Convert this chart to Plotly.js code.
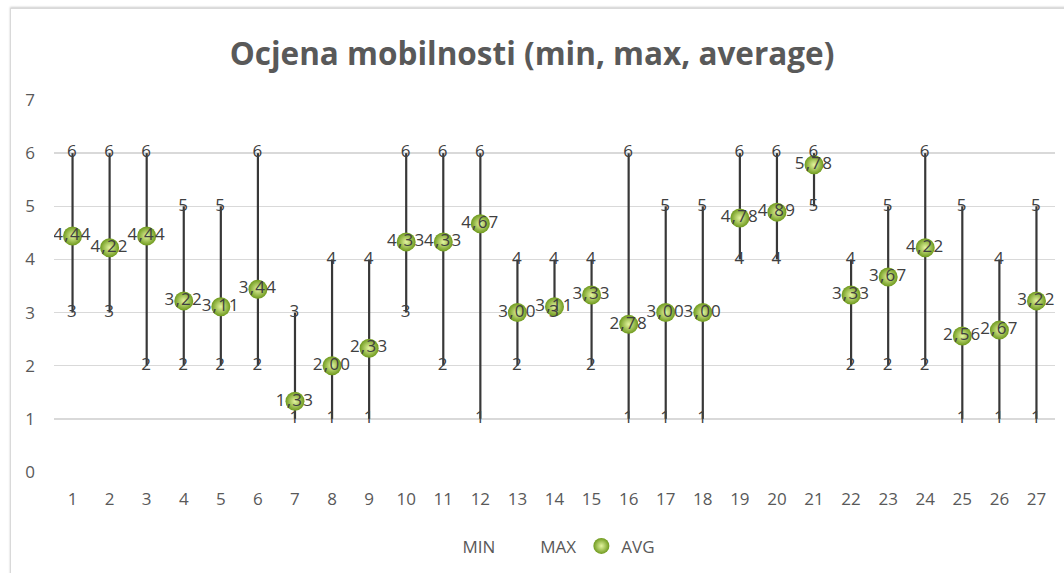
<!DOCTYPE html>
<html>
<head>
<meta charset="utf-8">
<script src="https://cdn.plot.ly/plotly-3.0.1.min.js"></script>
<style>
  html, body { margin: 0; padding: 0; background: #fff; }
  #wrap { position: relative; width: 1064px; height: 573px; }
  #chart { width: 1064px; height: 573px; }
  #frame { position: absolute; left: 10px; top: 8px; width: 1060px; height: 570px;
           border: 1px solid #d9d9d9; box-shadow: 0 -1px 2px #ccc; pointer-events: none; }
  #chart .textpoint text { letter-spacing: 1.2px; }
</style>
</head>
<body>
<div id="wrap">
  <div id="chart"></div>
  <div id="frame"></div>
</div>
<script>
// ---- data ----
const categories = [1,2,3,4,5,6,7,8,9,10,11,12,13,14,15,16,17,18,19,20,21,22,23,24,25,26,27];
const minVals = [3,3,2,2,2,2,1,1,1,3,2,1,2,3,2,1,1,1,4,4,5,2,2,2,1,1,1];
const maxVals = [6,6,6,5,5,6,3,4,4,6,6,6,4,4,4,6,5,5,6,6,6,4,5,6,5,4,5];
const avgVals = [4.44,4.22,4.44,3.22,3.11,3.44,1.33,2.00,2.33,4.33,4.33,4.67,3.00,3.11,3.33,2.78,3.00,3.00,4.78,4.89,5.78,3.33,3.67,4.22,2.56,2.67,3.22];
const yTicks = [0,1,2,3,4,5,6,7];

const fmt = v => v.toFixed(2).replace('.', ',');
const labelFont = {family: 'Open Sans, sans-serif', size: 17, color: '#404040'};

const traces = [
  {name: 'MIN', x: [null], y: [null], type: 'scatter', mode: 'markers',
   marker: {color: 'rgba(0,0,0,0)', size: 1}, hoverinfo: 'skip'},
  {name: 'MAX', x: [null], y: [null], type: 'scatter', mode: 'markers',
   marker: {color: 'rgba(0,0,0,0)', size: 1}, hoverinfo: 'skip'},
  {name: 'AVG', x: categories, y: avgVals, type: 'scatter', mode: 'markers',
   marker: {size: 19, color: '#6f9a1e', line: {width: 0},
            gradient: {type: 'radial', color: '#e4f5a0'}},
   error_y: {type: 'data', symmetric: false,
             array: maxVals.map((m, i) => m - avgVals[i]),
             arrayminus: minVals.map((m, i) => avgVals[i] - m),
             color: '#383838', thickness: 2.2, width: 0}},
  {name: 'MINlbl', x: categories, y: minVals, type: 'scatter', mode: 'text',
   text: minVals.map(String), textposition: 'middle center', textfont: labelFont,
   showlegend: false, hoverinfo: 'skip'},
  {name: 'MAXlbl', x: categories, y: maxVals, type: 'scatter', mode: 'text',
   text: maxVals.map(String), textposition: 'middle center', textfont: labelFont,
   showlegend: false, hoverinfo: 'skip'},
  {name: 'AVGlbl', x: categories, y: avgVals, type: 'scatter', mode: 'text',
   text: avgVals.map(fmt), textposition: 'middle center', textfont: labelFont,
   showlegend: false, hoverinfo: 'skip'}
];

const layout = {
  width: 1064, height: 573,
  margin: {l: 53.5, r: 8.5, t: 100, b: 101},
  paper_bgcolor: '#ffffff', plot_bgcolor: '#ffffff',
  title: {text: 'Ocjena mobilnosti (min, max, average)',
          font: {family: 'Open Sans, sans-serif', size: 31.5, color: '#595959', weight: 'bold'},
          x: 0.5, xanchor: 'center', y: 0.905, yanchor: 'middle', yref: 'container'},
  xaxis: {range: [0.5, 27.5], tickmode: 'array', tickvals: categories,
          ticktext: categories.map(String), showgrid: false, zeroline: false,
          showline: false, ticks: '', ticklabelstandoff: 15,
          tickfont: {family: 'Open Sans, sans-serif', size: 17, color: '#595959'}},
  yaxis: {range: [0, 7], tickmode: 'array', tickvals: yTicks, ticktext: yTicks.map(String),
          showgrid: true, gridcolor: '#d9d9d9', gridwidth: 1.3, zeroline: false,
          showline: false, ticks: '', ticklabelstandoff: 18,
          tickfont: {family: 'Open Sans, sans-serif', size: 17, color: '#595959'}},
  showlegend: true,
  legend: {orientation: 'h', x: 0.487, xanchor: 'center', y: -0.2, yanchor: 'middle',
           font: {family: 'Open Sans, sans-serif', size: 17, color: '#595959'},
           itemwidth: 30, traceorder: 'normal'}
};

Plotly.newPlot('chart', traces, layout, {displayModeBar: false, staticPlot: true});
</script>
</body>
</html>
